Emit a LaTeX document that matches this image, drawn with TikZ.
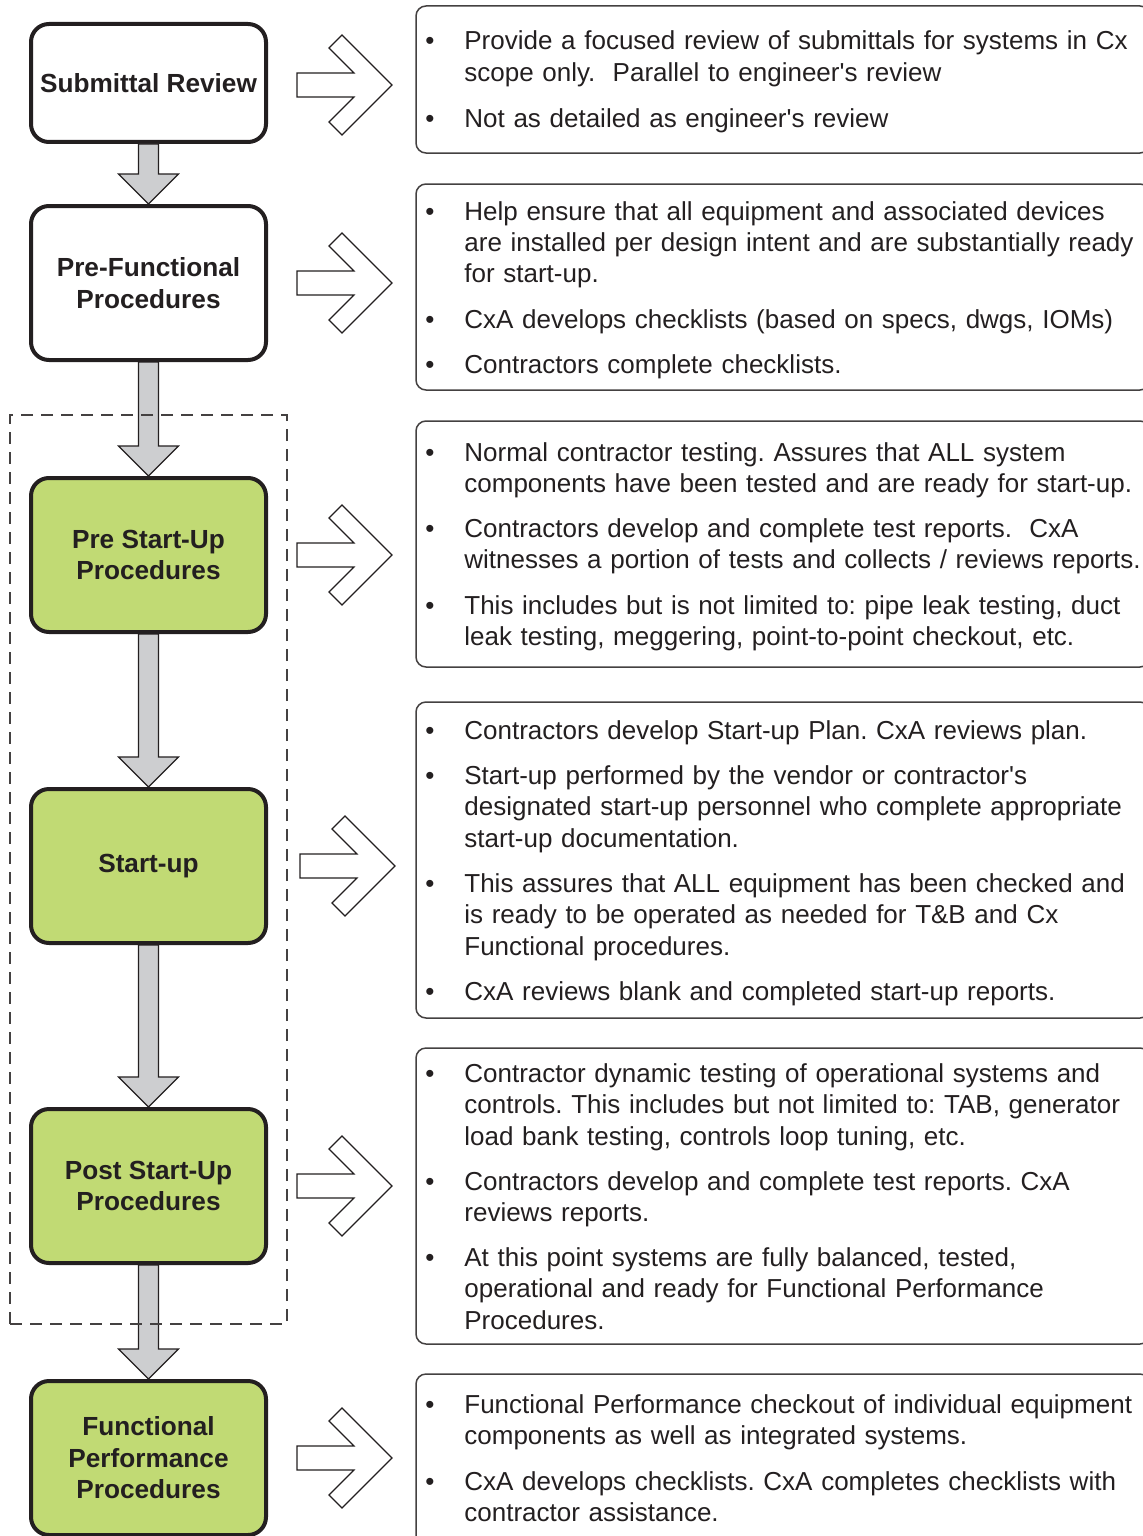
\documentclass[tikz,border=0pt]{standalone}
\usepackage{fontspec}
\setmainfont{Liberation Sans}
\usetikzlibrary{calc}
\frenchspacing
\definecolor{ink}{HTML}{231F20}
\definecolor{boxgreen}{RGB}{193,218,116}
\definecolor{arrowgray}{HTML}{CDCED0}
\newcommand\grayarrow[2]{%
  \draw[downarr] ($(#1.south)+(-10,0)$) -- ($(#2.north)+(-10,-30)$) -- ($(#2.north)+(-30,-30)$) -- (#2.north)
    -- ($(#2.north)+(30,-30)$) -- ($(#2.north)+(10,-30)$) -- ($(#1.south)+(10,0)$) -- cycle;}
\newcommand\chevarrow[3]{%
  \draw[chev] ($(#1.east)+(29+#2,#3)$) ++(0,-12) -- ++(57,0) -- ++(-25,-25) -- ++(13,-13) -- ++(50,50)
    -- ++(-50,50) -- ++(-13,-13) -- ++(25,-25) -- ++(-57,0) -- cycle;}
\newcommand\ap{\textquotesingle}
\begin{document}
\begin{tikzpicture}[x=0.5pt,y=-0.5pt,
  stage/.style={draw=ink, line width=2pt, rounded corners=9pt, minimum width=117.5pt, align=center,
    font=\fontsize{13.1}{15.75}\selectfont\bfseries, text=ink, inner sep=0pt, fill=white},
  greenstage/.style={stage, fill=boxgreen},
  rbox/.style={draw=ink!85, line width=0.75pt, rounded corners=5pt, minimum width=367pt, inner sep=0pt},
  bul/.style={anchor=base, inner sep=0pt, font=\fontsize{13}{15.75}\selectfont, text=ink},
  txt/.style={anchor=base west, inner sep=0pt, text width=360pt, align=left,
    font=\fontsize{13}{15.75}\selectfont, text=ink},
  downarr/.style={fill=arrowgray, draw=ink, line width=0.6pt, line join=miter},
  chev/.style={fill=white, draw=ink, line width=0.6pt, line join=miter},
  grp/.style={draw=ink!85, dash pattern=on 6pt off 4pt, line width=0.7pt, inner sep=0pt}]
\useasboundingbox (0,0) rectangle (1143,1536);

% left stages
\node[stage, minimum height=59pt] (s1) at (148.5,83) {Submittal Review};
\node[stage, minimum height=77pt] (s2) at (148.5,283) {Pre-Functional\\Procedures};
\node[greenstage, minimum height=77pt] (s3) at (148.5,555) {Pre Start-Up\\Procedures};
\node[greenstage, minimum height=77pt] (s4) at (148.5,866) {Start-up};
\node[greenstage, minimum height=77pt] (s5) at (148.5,1186) {Post Start-Up\\Procedures};
\node[greenstage, minimum height=77pt] (s6) at (148.5,1458) {Functional\\Performance\\Procedures};

% right boxes
\node[rbox, minimum height=73.5pt] (r1) at (783,79.5) {};
\node[rbox, minimum height=103pt] (r2) at (783,287) {};
\node[rbox, minimum height=123pt] (r3) at (783,544) {};
\node[rbox, minimum height=158pt] (r4) at (783,860) {};
\node[rbox, minimum height=148pt] (r5) at (783,1196) {};
\node[rbox, minimum height=85.5pt] (r6) at (783,1459.5) {};

% down arrows
\grayarrow{s1}{s2}
\grayarrow{s2}{s3}
\grayarrow{s3}{s4}
\grayarrow{s4}{s5}
\grayarrow{s5}{s6}

% dashed group
\node[grp, minimum width=138.5pt, minimum height=454.5pt] (grp) at (148.5,869.5) {};

% right arrows
\chevarrow{s1}{0}{2}
\chevarrow{s2}{0}{0}
\chevarrow{s3}{0}{0}
\chevarrow{s4}{3}{0}
\chevarrow{s5}{0}{0}
\chevarrow{s6}{0}{0}

% box 1
\node[bul] (b11) at (430,50) {•};
\node[txt] (t11) at (464,50) {Provide a focused review of submittals for systems in Cx\\scope only.\ \ Parallel to engineer\ap s review};
\node[bul] (b12) at (430,127) {•};
\node[txt] (t12) at (464,127) {Not as detailed as engineer\ap s review};
% box 2
\node[bul] (b21) at (430,220) {•};
\node[txt] (t21) at (464,220) {Help ensure that all equipment and associated devices\\are installed per design intent and are substantially ready\\for start-up.};
\node[bul] (b22) at (430,328) {•};
\node[txt] (t22) at (464,328) {CxA develops checklists (based on specs, dwgs, IOMs)};
\node[bul] (b23) at (430,373) {•};
\node[txt] (t23) at (464,373) {Contractors complete checklists.};
% box 3
\node[bul] (b31) at (430,461) {•};
\node[txt] (t31) at (464,461) {Normal contractor testing. Assures that ALL system\\components have been tested and are ready for start-up.};
\node[bul] (b32) at (430,537) {•};
\node[txt] (t32) at (464,537) {Contractors develop and complete test reports.\ \ CxA\\witnesses a portion of tests and collects / reviews reports.};
\node[bul] (b33) at (430,614) {•};
\node[txt] (t33) at (464,614) {This includes but is not limited to: pipe leak testing, duct\\leak testing, meggering, point-to-point checkout, etc.};
% box 4
\node[bul] (b41) at (430,739) {•};
\node[txt] (t41) at (464,739) {Contractors develop Start-up Plan. CxA reviews plan.};
\node[bul] (b42) at (430,784) {•};
\node[txt] (t42) at (464,784) {Start-up performed by the vendor or contractor\ap s\\designated start-up personnel who complete appropriate\\start-up documentation.};
\node[bul] (b43) at (430,892) {•};
\node[txt] (t43) at (464,892) {This assures that ALL equipment has been checked and\\is ready to be operated as needed for T\&B and Cx\\Functional procedures.};
\node[bul] (b44) at (430,1000) {•};
\node[txt] (t44) at (464,1000) {CxA reviews blank and completed start-up reports.};
% box 5
\node[bul] (b51) at (430,1082) {•};
\node[txt] (t51) at (464,1082) {Contractor dynamic testing of operational systems and\\controls. This includes but not limited to: TAB, generator\\load bank testing, controls loop tuning, etc.};
\node[bul] (b52) at (430,1190) {•};
\node[txt] (t52) at (464,1190) {Contractors develop and complete test reports. CxA\\reviews reports.};
\node[bul] (b53) at (430,1266) {•};
\node[txt] (t53) at (464,1266) {At this point systems are fully balanced, tested,\\operational and ready for Functional Performance\\Procedures.};
% box 6
\node[bul] (b61) at (430,1413) {•};
\node[txt] (t61) at (464,1413) {Functional Performance checkout of individual equipment\\components as well as integrated systems.};
\node[bul] (b62) at (430,1490) {•};
\node[txt] (t62) at (464,1490) {CxA develops checklists. CxA completes checklists with\\contractor assistance.};
\end{tikzpicture}
\end{document}
